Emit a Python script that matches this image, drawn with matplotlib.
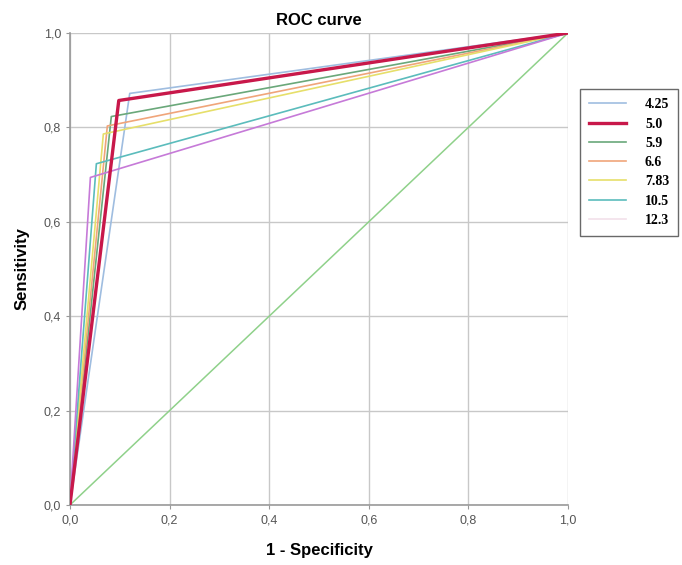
import matplotlib.pyplot as plt
from matplotlib.lines import Line2D
from matplotlib.ticker import FuncFormatter

# ================= DATA =================
cutoffs = ["4.25", "5.0", "5.9", "6.6", "7.83", "10.5", "12.3"]
fpr = [0.12, 0.098, 0.083, 0.075, 0.067, 0.053, 0.041]
tpr = [0.872, 0.857, 0.823, 0.803, 0.786, 0.723, 0.694]

line_colors = ["#9fbde0", "#c8184a", "#6aa87a", "#f0a57a", "#e6df6a", "#5bbcbc", "#c67ad8"]
legend_colors = ["#9fbde0", "#c8184a", "#6aa87a", "#f0a57a", "#e6df6a", "#5bbcbc", "#f2e0ea"]
widths = [1.2, 2.4, 1.2, 1.2, 1.2, 1.2, 1.2]

ticks = [0.0, 0.2, 0.4, 0.6, 0.8, 1.0]

# ================= PLOTTING =================
fig = plt.figure(figsize=(6.82, 5.65), dpi=100)
ax = fig.add_axes([0.1026, 0.1062, 0.7302, 0.8354])

ax.plot([0, 1], [0, 1], color="#8fd18a", linewidth=1.1, zorder=2)

for i in range(len(cutoffs)):
    ax.plot([0, fpr[i], 1], [0, tpr[i], 1], color=line_colors[i],
            linewidth=widths[i], zorder=3 + (i == 1))

ax.set_xlim(0, 1)
ax.set_ylim(0, 1)
ax.set_xticks(ticks)
ax.set_yticks(ticks)
comma = FuncFormatter(lambda v, p: f"{v:.1f}".replace(".", ","))
ax.xaxis.set_major_formatter(comma)
ax.yaxis.set_major_formatter(comma)
ax.grid(True, color="#c8c8c8", linewidth=1.0, zorder=0)
ax.set_axisbelow(True)
for s in ["top", "right"]:
    ax.spines[s].set_visible(False)
for s in ["left", "bottom"]:
    ax.spines[s].set_color("#999999")
    ax.spines[s].set_linewidth(1.2)
ax.tick_params(colors="#999999", labelcolor="#555555", length=3,
               labelsize=9, labelfontfamily="Liberation Sans")

ax.set_title("ROC curve", fontsize=12, fontweight="bold",
             family="Liberation Sans", pad=6)
ax.set_xlabel("1 - Specificity", fontsize=12, fontweight="bold",
              family="Liberation Sans", labelpad=12)
ax.set_ylabel("Sensitivity", fontsize=12, fontweight="bold",
              family="Liberation Sans", labelpad=10)

handles = [Line2D([], [], color=legend_colors[i], linewidth=widths[i])
           for i in range(len(cutoffs))]
leg = fig.legend(handles, cutoffs, loc="upper left",
                 bbox_to_anchor=(0.851, 0.842), frameon=True, fancybox=False,
                 prop={"family": "Liberation Serif", "weight": "bold", "size": 10},
                 handlelength=2.6, labelspacing=0.45, borderpad=0.65,
                 handletextpad=1.4, borderaxespad=0)
leg.get_frame().set_edgecolor("#444444")
leg.get_frame().set_linewidth(1.0)

plt.savefig("out.png", dpi=100)
plt.close()
